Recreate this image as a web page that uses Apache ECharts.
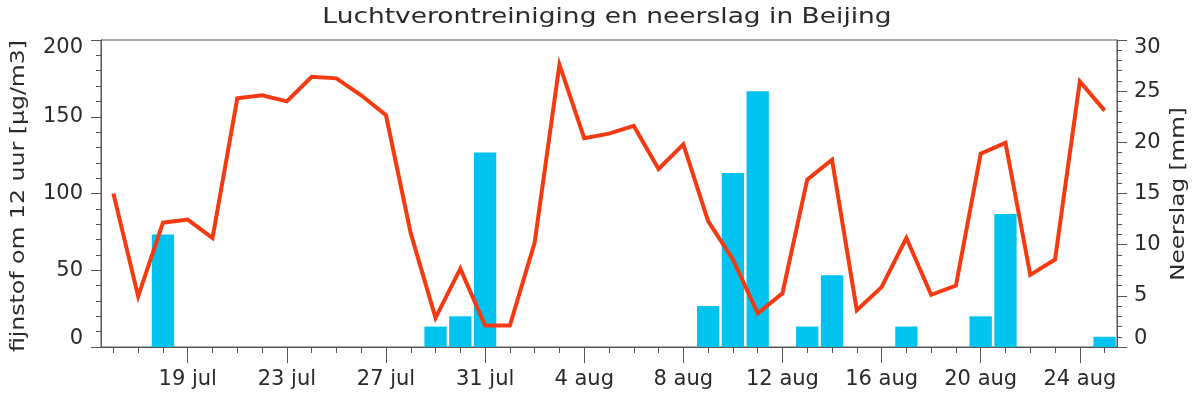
<!DOCTYPE html>
<html>
<head>
<meta charset="utf-8">
<script src="https://cdn.jsdelivr.net/npm/echarts@6/dist/echarts.min.js"></script>
<style>
html,body{margin:0;padding:0;background:#fff;}
#c{width:1200px;height:398px;}
</style>
</head>
<body>
<div id="c"></div>
<script>
const categories = ["16 jul","17 jul","18 jul","19 jul","20 jul","21 jul","22 jul","23 jul","24 jul","25 jul","26 jul","27 jul","28 jul","29 jul","30 jul","31 jul",
  "1 aug","2 aug","3 aug","4 aug","5 aug","6 aug","7 aug","8 aug","9 aug","10 aug","11 aug","12 aug","13 aug","14 aug","15 aug","16 aug","17 aug","18 aug","19 aug","20 aug","21 aug","22 aug","23 aug","24 aug","25 aug"];
const fijnstof = [100,33,81,83,71,162,164,160,176,175,164,151,74,19,51,14,
  14,68,184,136,139,144,116,132,82,57,22,35,109,122,24,39,71,34,40,126,133,47,57,173,154];
const neerslag = [0,0,11,0,0,0,0,0,0,0,0,0,0,2,3,19,
  0,0,0,0,0,0,0,0,4,17,25,0,2,7,0,0,2,0,0,3,13,0,0,0,1];
const labeledDays = ["19 jul","23 jul","27 jul","31 jul","4 aug","8 aug","12 aug","16 aug","20 aug","24 aug"];
const leftTicks = {min:0, max:200, interval:50};
const rightTicks = {min:0, max:30, interval:5};
const titleText = 'Luchtverontreiniging en neerslag in Beijing';
const leftName = 'fijnstof om 12 uur [µg/m3]';
const rightName = 'Neerslag [mm]';

const FONT = 'DejaVu Sans';
const TXT = '#2a2a2a';
const AX = '#555';
const isLab = (i, v) => labeledDays.indexOf(categories[i]) >= 0;

function txt(text, x, y, size, rot, sx) {
  return {type:'text', x:x, y:y, rotation:rot, scaleX:sx, silent:true,
    style:{text:text, fontFamily:FONT, fontSize:size, fill:TXT,
      align:'center', verticalAlign:'middle', textAlign:'center', textVerticalAlign:'middle'}};
}

const chart = echarts.init(document.getElementById('c'));
chart.setOption({
  animation:false,
  backgroundColor:'#ffffff',
  graphic:[
    txt(titleText, 607, 18, 21, 0, 1.26),
    txt(leftName, 19, 196, 20, Math.PI/2, 1.18),
    txt(rightName, 1179, 194, 20, Math.PI/2, 1.16)
  ],
  grid:{left:101, right:83, top:40, bottom:51, show:true, borderColor:AX, borderWidth:1, backgroundColor:'transparent'},
  xAxis:[
    {type:'category', data:categories, boundaryGap:true,
     axisLine:{lineStyle:{color:AX, width:1}},
     axisTick:{show:true, interval:0, alignWithLabel:true, length:6, lineStyle:{color:AX}},
     axisLabel:{show:false}, splitLine:{show:false}},
    {type:'category', data:categories, boundaryGap:true, position:'bottom',
     axisLine:{show:false},
     axisTick:{show:true, interval:isLab, alignWithLabel:true, length:16, lineStyle:{color:AX}},
     axisLabel:{show:true, interval:isLab, margin:25, lineHeight:16, fontFamily:FONT, fontSize:21, color:TXT},
     splitLine:{show:false}}
  ],
  yAxis:[
    {type:'value', min:leftTicks.min, max:leftTicks.max, interval:leftTicks.interval, position:'left',
     axisLine:{show:true, lineStyle:{color:AX}},
     axisTick:{show:true, length:10, lineStyle:{color:AX}},
     minorTick:{show:true, splitNumber:5, length:5, lineStyle:{color:AX}},
     axisLabel:{margin:18, lineHeight:16, fontFamily:FONT, fontSize:21, color:TXT, verticalAlignMinLabel:'bottom', verticalAlignMaxLabel:'top'},
     splitLine:{show:false}},
    {type:'value', min:rightTicks.min, max:rightTicks.max, interval:rightTicks.interval, position:'right',
     axisLine:{show:true, lineStyle:{color:AX}},
     axisTick:{show:true, length:10, lineStyle:{color:AX}},
     minorTick:{show:true, splitNumber:5, length:5, lineStyle:{color:AX}},
     axisLabel:{margin:17, lineHeight:16, fontFamily:FONT, fontSize:21, color:TXT, verticalAlignMinLabel:'bottom', verticalAlignMaxLabel:'top'},
     splitLine:{show:false}}
  ],
  series:[
    {type:'bar', name:'Neerslag', xAxisIndex:0, yAxisIndex:1, data:neerslag,
     barCategoryGap:'10%', itemStyle:{color:'#00c3f0'}},
    {type:'line', name:'Fijnstof', xAxisIndex:0, yAxisIndex:0, data:fijnstof,
     symbol:'none', lineStyle:{color:'#f53a12', width:4, join:'miter'}, z:5}
  ]
});
</script>
</body>
</html>
